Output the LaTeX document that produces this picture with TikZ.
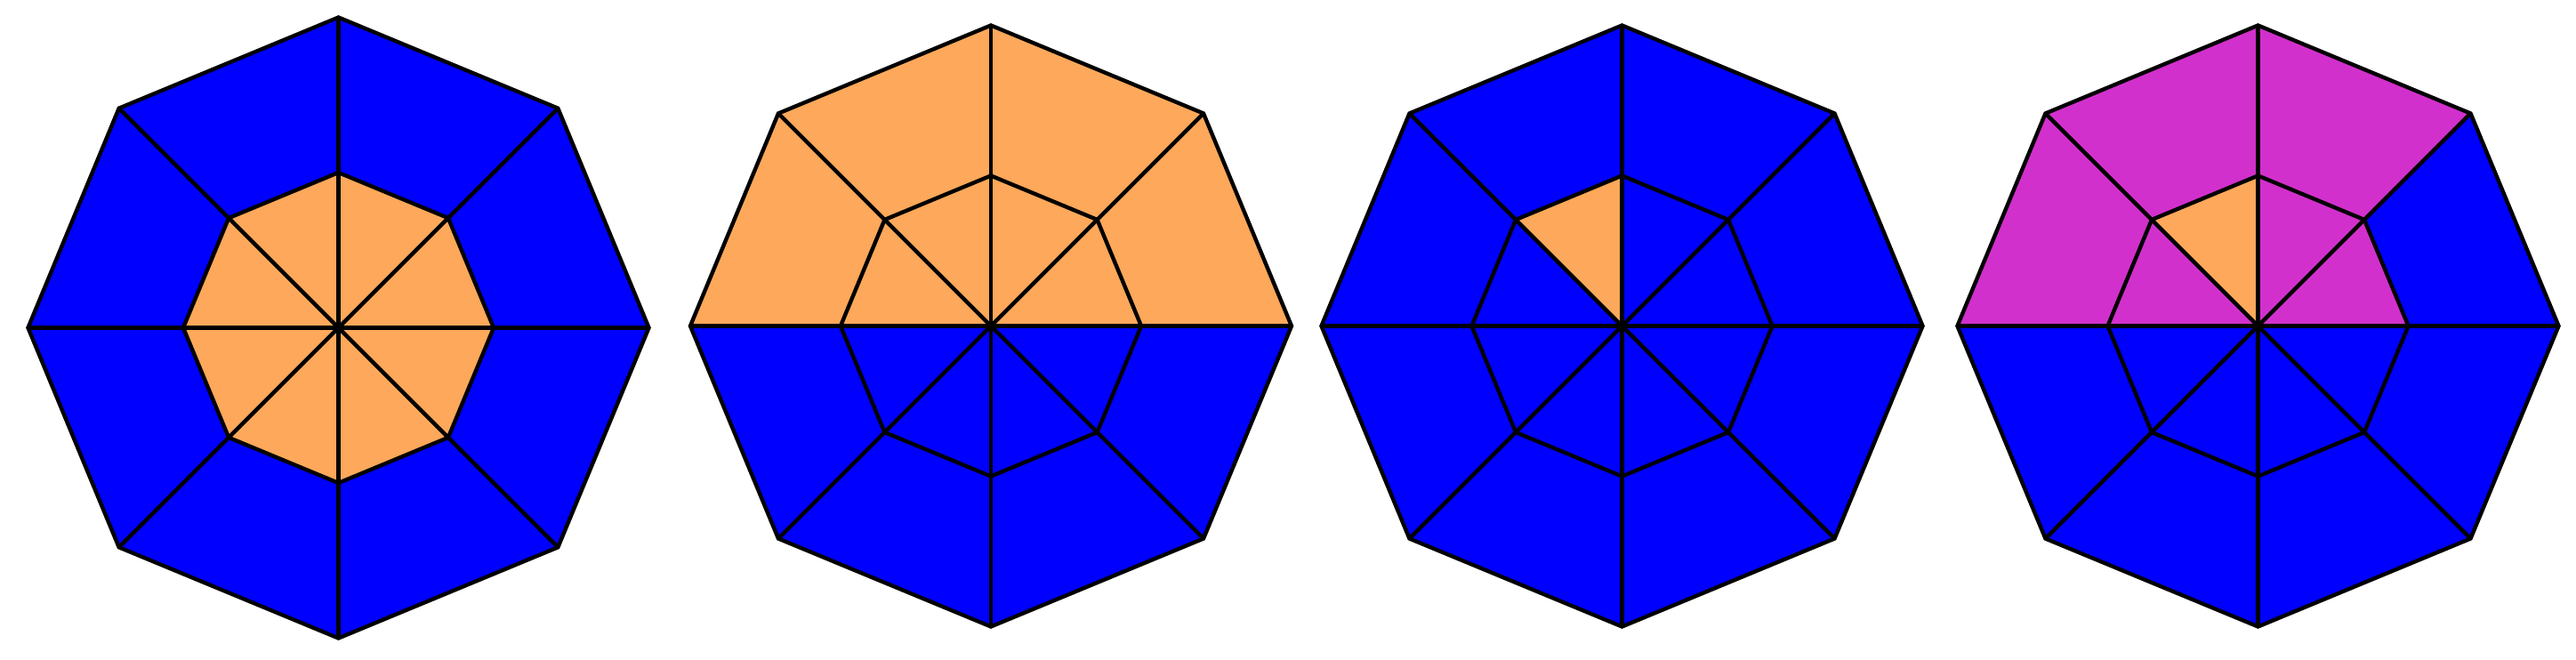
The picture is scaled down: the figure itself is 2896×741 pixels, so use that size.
\documentclass[tikz,border=0pt]{standalone}
\definecolor{ora}{RGB}{253,168,90}
\definecolor{blu}{RGB}{0,0,255}
\definecolor{mag}{RGB}{210,48,204}
\tikzset{edge/.style={draw=black,line width=1.1pt,line join=miter}}
\newcommand\sector[4]{%
  \fill[#3] (0,0) -- ({45*#2}:{#1/2}) -- ({45*(#2+1)}:{#1/2}) -- cycle;
  \fill[#4] ({45*#2}:{#1/2}) -- ({45*#2}:#1) -- ({45*(#2+1)}:#1) -- ({45*(#2+1)}:{#1/2}) -- cycle;
}
\newcommand\octlines[1]{%
  \draw[edge] (0:#1) -- (45:#1) -- (90:#1) -- (135:#1) -- (180:#1) -- (225:#1) -- (270:#1) -- (315:#1) -- cycle;
  \draw[edge] (0:{#1/2}) -- (45:{#1/2}) -- (90:{#1/2}) -- (135:{#1/2}) -- (180:{#1/2}) -- (225:{#1/2}) -- (270:{#1/2}) -- (315:{#1/2}) -- cycle;
  \foreach \a in {0,45,90,135}{\draw[edge] (\a:#1) -- (\a+180:#1);}
}
\begin{document}
\begin{tikzpicture}[x=0.25pt,y=0.25pt]
\useasboundingbox (0,0) rectangle (2896,741);
% octagon 1
\begin{scope}[shift={(380.5,372.5)}]
  \foreach \k in {0,...,7}{\sector{349}{\k}{ora}{blu}}
  \octlines{349}
\end{scope}
% octagon 2
\begin{scope}[shift={(1114,374.5)}]
  \foreach \k in {0,...,3}{\sector{338}{\k}{ora}{ora}}
  \foreach \k in {4,...,7}{\sector{338}{\k}{blu}{blu}}
  \octlines{338}
\end{scope}
% octagon 3
\begin{scope}[shift={(1823.5,374.5)}]
  \foreach \k in {0,1,3,4,5,6,7}{\sector{338}{\k}{blu}{blu}}
  \sector{338}{2}{ora}{blu}
  \octlines{338}
\end{scope}
% octagon 4
\begin{scope}[shift={(2538.5,374.5)}]
  \sector{338}{0}{mag}{blu}
  \sector{338}{1}{mag}{mag}
  \sector{338}{2}{ora}{mag}
  \sector{338}{3}{mag}{mag}
  \foreach \k in {4,...,7}{\sector{338}{\k}{blu}{blu}}
  \octlines{338}
\end{scope}
\end{tikzpicture}
\end{document}
